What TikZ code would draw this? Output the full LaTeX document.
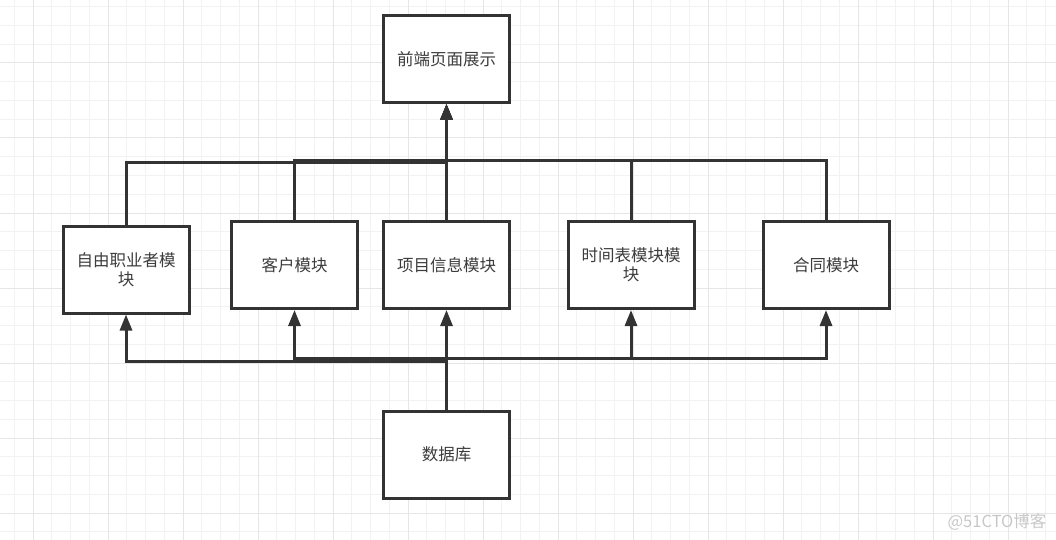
\documentclass[tikz,border=0pt]{standalone}
\usepackage{fontspec}
\setmainfont{Noto Sans CJK SC}
\usetikzlibrary{arrows.meta}
\definecolor{ink}{RGB}{51,51,51}
\definecolor{txt}{RGB}{60,60,60}
\definecolor{minorgrid}{RGB}{242,242,242}
\definecolor{majorgrid}{RGB}{230,230,230}
\begin{document}
\begin{tikzpicture}[x=1pt,y=-1pt,
    modbox/.style={draw=ink,line width=3pt,fill=white,minimum width=126pt,minimum height=87pt,
      align=center,text=txt,font=\fontsize{16.5}{19}\selectfont,inner sep=0pt},
    link/.style={draw=ink,line width=3pt,-{Triangle[length=16pt,width=12pt]}},
    wmark/.style={text=black!22,font=\fontsize{16.5}{18}\selectfont,inner sep=0pt}]
        \useasboundingbox (0,0) rectangle (1056,540);
        % grid
        \foreach \i in {0,...,55} \draw[minorgrid,line width=1pt] ({14.25+18.75*\i},0)--++(0,540);
        \foreach \i in {0,...,28} \draw[minorgrid,line width=1pt] (0,{6.75+18.75*\i})--++(1056,0);
        \foreach \i in {0,...,13} \draw[majorgrid,line width=1pt] ({33+75*\i},0)--++(0,540);
        \foreach \i in {0,...,6} \draw[majorgrid,line width=1pt] (0,{63+75*\i})--++(1056,0);
        % boxes
        \node[modbox] (front) at (446.5,59) {前端页面展示};
        \node[modbox] (free) at (126,269.5) {自由职业者模\\块};
        \node[modbox] (client) at (294.5,265) {客户模块};
        \node[modbox] (project) at (446.5,265) {项目信息模块};
        \node[modbox] (sched) at (631,265) {时间表模块模\\块};
        \node[modbox] (contract) at (826,265) {合同模块};
        \node[modbox] (db) at (446.5,454.5) {数据库};
        % up to the front end
        \draw[link] (free.north) --++(0,-62) -| (front.south);
        \draw[link] (client.north) --++(0,-59) -| (front.south);
        \draw[link] (sched.north) --++(0,-59) -| (front.south);
        \draw[link] (contract.north) --++(0,-59) -| (front.south);
        \draw[link] (project.north) -- (front.south);
        % from the database
        \draw[link] (db.north) --++(0,-48) -| (free.south);
        \draw[link] (db.north) --++(0,-51) -| (client.south);
        \draw[link] (db.north) --++(0,-51) -| (sched.south);
        \draw[link] (db.north) --++(0,-51) -| (contract.south);
        \draw[link] (db.north) -- (project.south);
        \node[wmark] (wm) at (997,522) {@51CTO博客};
    \end{tikzpicture}
\end{document}
